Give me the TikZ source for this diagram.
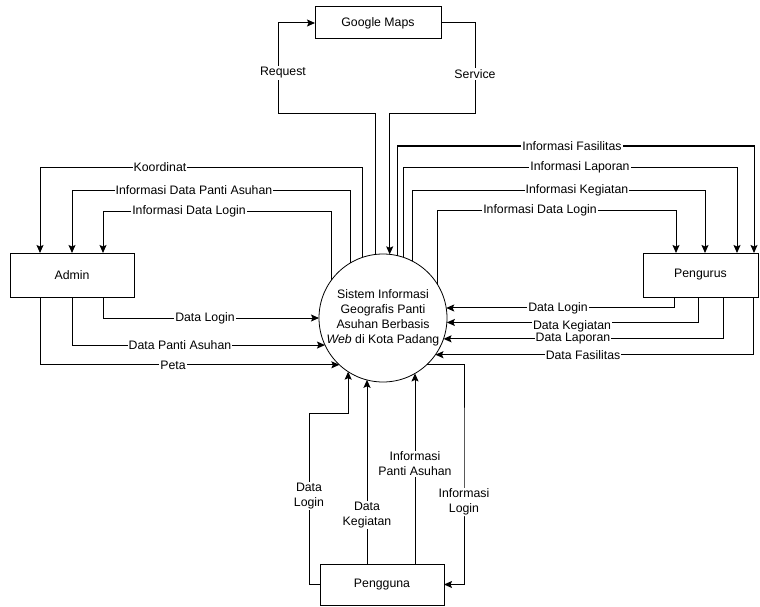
\documentclass[tikz,border=0pt]{standalone}
\usepackage{fontspec}
\setmainfont{Liberation Sans}
\usetikzlibrary{arrows.meta,positioning}
\tikzset{
    entity/.style={draw,line width=1pt,minimum width=124pt,minimum height=44pt,inner sep=0pt,outer sep=0pt},
    process/.style={draw,circle,line width=0.8pt,minimum size=128pt,inner sep=0pt,outer sep=0pt,align=center},
    flow/.style={line width=1pt,-{Stealth[length=8pt,width=7pt,inset=1.5pt]}},
    lbl/.style={fill=white,inner sep=1pt,align=center}
}

\begin{document}
\begin{tikzpicture}[x=1pt,y=-1pt,font=\fontsize{12.3}{15}\selectfont]
        \useasboundingbox (0,0) rectangle (760,607);

        \node[process] (sis) at (383,318) {Sistem Informasi\\Geografis Panti\\Asuhan Berbasis\\\textit{Web} di Kota Padang};
        \node[entity] (admin) at (72,275) {Admin};
        \node[entity,minimum width=115pt] (pengurus) at (700.5,275) {Pengurus};
        \node[entity,minimum width=126pt,minimum height=32pt] (gmaps) at (378,23) {Google Maps};
        \node[entity,minimum height=41pt] (pengguna) at (382,584.5) {Pengguna};

        \coordinate (r1) at (278,114);
        \coordinate (s1) at (475,114);
        \draw[flow] (sis.97) |- (r1) |- (gmaps.west);
        \draw[flow] (gmaps.east) -| (s1) -| (sis.84);

        \coordinate (a1) at (40,167);
        \coordinate (a2) at (72,190);
        \coordinate (a3) at (103,211);
        \draw[flow] (sis.109) |- (a1) -- (a1 |- admin.north);
        \draw[flow] (sis.121) |- (a2) -- (a2 |- admin.north);
        \draw[flow] (sis.144) |- (a3) -- (a3 |- admin.north);
        \draw[flow] ([xshift=31pt]admin.south) |- (sis.180);
        \draw[flow] (admin.south) |- (sis.205);
        \draw[flow] ([xshift=-32pt]admin.south) |- (sis.227);

        \coordinate (p1) at (754,146);
        \coordinate (p2) at (737,167);
        \coordinate (p3) at (705,190);
        \coordinate (p4) at (676,210);
        \draw[flow] (sis.77) |- (p1) -- (p1 |- pengurus.north);
        \draw[flow] (sis.71) |- (p2) -- (p2 |- pengurus.north);
        \draw[flow] (sis.63) |- (p3) -- (p3 |- pengurus.north);
        \draw[flow] (sis.31) |- (p4) -- (p4 |- pengurus.north);
        \draw[flow] ([xshift=-26.5pt]pengurus.south) |- (sis.9);
        \draw[flow] ([xshift=-2.5pt]pengurus.south) |- (sis.356);
        \draw[flow] ([xshift=22.5pt]pengurus.south) |- (sis.341);
        \draw[flow] ([xshift=52.5pt]pengurus.south) |- (sis.325);

        \coordinate (b1) at (309,413);
        \coordinate (b2) at (464,450);
        \coordinate (g1) at ([xshift=-15pt]pengguna.north);
        \coordinate (g2) at ([xshift=33pt]pengguna.north);
        \draw[flow] (pengguna.west) -| (b1) -| (sis.237);
        \draw[flow] (g1) -- (g1 |- sis.255.5);
        \draw[flow] (g2) -- (g2 |- sis.300);
        \draw[flow] (sis.314) -| (b2) |- (pengguna.east);

        \node[lbl] (lreq) at (283,73) {Request};
        \node[lbl] (lsrv) at (475,74) {Service};
        \node[lbl] (la1) at (160,167) {Koordinat};
        \node[lbl] (la2) at (194,190) {Informasi Data Panti Asuhan};
        \node[lbl] (la3) at (189,211) {Informasi Data Login};
        \node[lbl] (la4) at (205,318) {Data Login};
        \node[lbl] (la5) at (180,345) {Data Panti Asuhan};
        \node[lbl] (la6) at (173,365) {Peta};
        \node[lbl] (lp1) at (572,146) {Informasi Fasilitas};
        \node[lbl] (lp2) at (580,167) {Informasi Laporan};
        \node[lbl] (lp3) at (577,190) {Informasi Kegiatan};
        \node[lbl] (lp4) at (540,210) {Informasi Data Login};
        \node[lbl] (lp5) at (558,308) {Data Login};
        \node[lbl] (lp6) at (572,326) {Data Kegiatan};
        \node[lbl] (lp7) at (573,339) {Data Laporan};
        \node[lbl] (lp8) at (583,355) {Data Fasilitas};
        \node[lbl] (lb1) at (309,496) {Data\\Login};
        \node[lbl] (lb2) at (367,515) {Data\\Kegiatan};
        \node[lbl] (lb3) at (415,464) {Informasi\\Panti Asuhan};
        \node[lbl] (lb4) at (464,502) {Informasi\\Login};
\end{tikzpicture}
\end{document}
